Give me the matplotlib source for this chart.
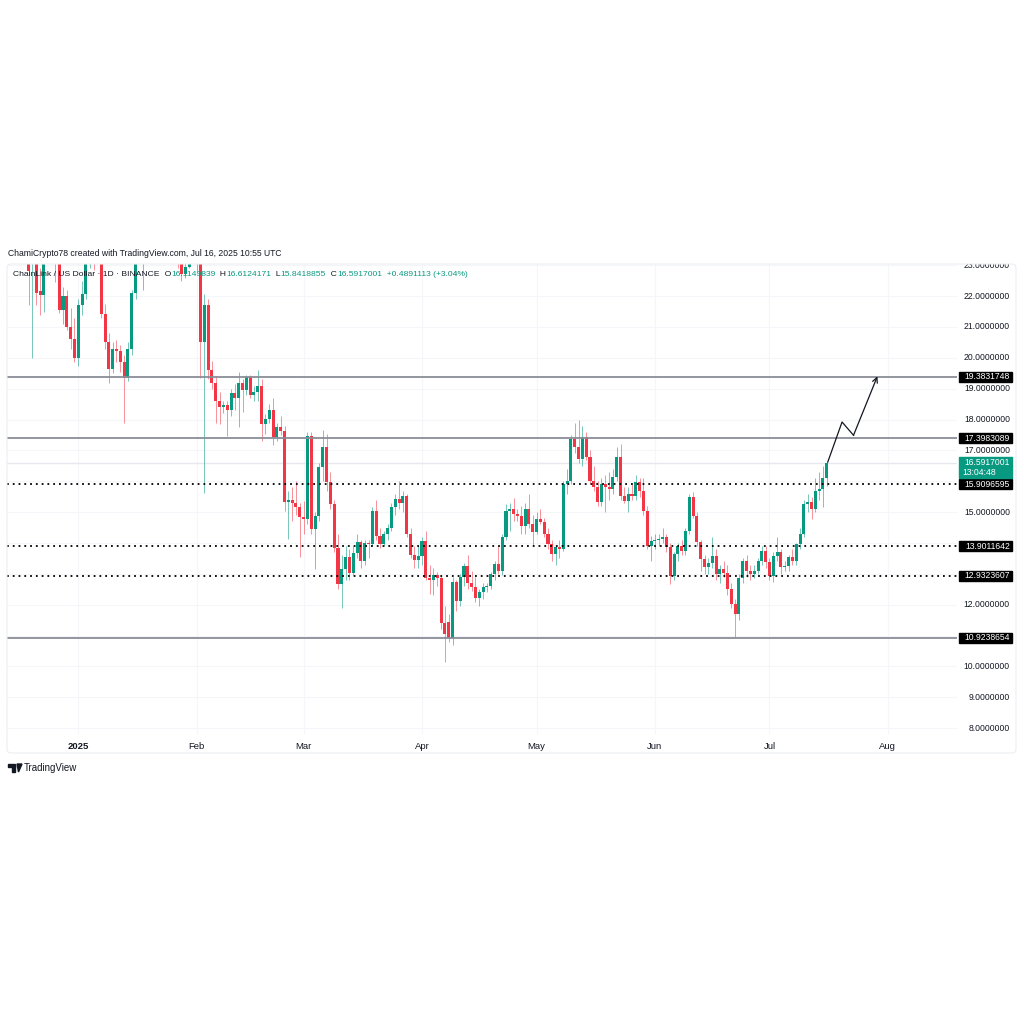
import matplotlib
matplotlib.use("Agg")
import matplotlib.pyplot as plt
import matplotlib.dates as mdates
from matplotlib import font_manager
from matplotlib.patches import Rectangle, FancyBboxPatch, Polygon
import pandas as pd

# daily LINK/USD candles, 14 Dec 2024 -> 16 Jul 2025
start_date = "2024-12-14"
opens = [
    29.2, 28.3, 28.5, 27.6, 26.8, 24.6, 23.2, 24.0, 22.15, 22.05, 23.5, 24.3, 23.9, 23.3, 21.55, 22.0, 21.0, 20.6,
    # Jan
    20.0, 21.7, 22.07, 23.4, 23.9, 23.6, 24.6, 21.42, 20.5, 19.65, 20.27, 20.22, 19.85, 19.36, 20.3, 22.1,
    24.2, 25.2, 25.4, 24.8, 24.3, 24.9, 24.4, 24.8, 24.6, 24.7, 24.4, 23.6, 22.72, 22.95, 25.0,
    # Feb
    24.6, 23.3, 20.5, 21.7, 19.6, 19.2, 18.6, 18.42, 18.48, 18.3, 18.85, 18.7, 19.2, 18.95, 19.37, 18.8,
    18.9, 19.1, 17.87, 18.02, 18.32, 17.43, 17.77, 17.64, 15.32, 15.38, 15.3, 15.15,
    # Mar
    14.83, 14.78, 17.48, 14.46, 14.88, 16.45, 17.1, 15.96, 15.26, 13.85, 12.67, 13.16, 13.53, 13.04, 13.69, 14.02,
    13.4, 14.0, 13.98, 15.05, 14.23, 13.97, 14.3, 14.5, 15.15, 15.44, 15.3, 15.53, 14.3, 13.6, 13.45,
    # Apr
    13.58, 14.07, 12.88, 12.8, 12.95, 12.88, 11.4, 11.45, 10.93, 12.72, 12.12, 12.9, 13.26, 12.7, 12.56,
    12.23, 12.4, 12.56, 12.6, 12.99, 13.32, 13.1, 14.18, 15.05, 15.1, 14.94, 14.88, 14.56, 15.1, 14.61,
    # May
    14.34, 14.77, 14.67, 14.29, 13.96, 13.64, 13.86, 13.8, 15.91, 16.02, 17.37, 17.12, 16.72, 17.43, 16.78, 16.02,
    15.8, 15.32, 15.91, 15.8, 15.75, 16.13, 16.78, 15.53, 15.37, 15.59, 15.53, 15.97, 15.7, 15.05, 13.91,
    # Jun
    14.07, 14.1, 14.13, 14.18, 13.86, 12.94, 13.64, 13.91, 13.75, 14.4, 15.48, 14.88, 14.02, 13.48, 13.21,
    13.35, 13.59, 12.99, 13.15, 13.04, 12.5, 12.02, 11.69, 12.88, 13.42, 13.1, 12.99, 13.1, 13.42, 13.75,
    # Jul
    13.37, 12.94, 13.59, 13.7, 13.21, 13.26, 13.53, 13.42, 13.96, 14.29, 15.26, 15.32, 15.1, 15.7, 15.75, 16.115,
]
highs = [
    29.8, 29.0, 29.3, 28.2, 27.1, 25.3, 24.3, 24.6, 22.9, 24.0, 24.6, 24.6, 24.1, 23.6, 22.3, 22.2, 21.6, 21.3,
    21.9, 22.5, 23.6, 24.3, 24.3, 25.0, 25.1, 21.75, 20.8, 20.5, 20.57, 20.4, 20.1, 20.5, 22.2, 24.5,
    25.5, 25.8, 26.0, 25.6, 25.2, 25.3, 25.0, 25.4, 25.0, 25.1, 24.6, 23.9, 23.2, 25.3, 25.4,
    24.8, 23.5, 22.07, 21.9, 19.9, 19.4, 18.9, 18.6, 18.6, 19.0, 19.15, 19.55, 19.3, 19.45, 19.45, 19.1,
    19.6, 19.3, 18.18, 18.5, 18.7, 17.9, 18.1, 17.8, 15.7, 15.8, 16.0, 15.3,
    15.37, 17.6, 17.6, 15.0, 16.6, 17.66, 17.54, 16.3, 15.4, 14.3, 13.6, 13.9, 13.8, 13.9, 14.3, 14.1,
    14.1, 14.1, 15.15, 15.4, 14.5, 14.4, 14.6, 15.3, 15.6, 16.02, 15.7, 15.6, 14.5, 13.9, 13.9,
    14.2, 14.4, 13.3, 13.2, 13.05, 12.95, 11.95, 11.7, 12.9, 12.8, 13.0, 13.35, 13.6, 13.1, 12.9,
    12.5, 12.7, 12.7, 13.05, 13.4, 13.9, 14.3, 15.25, 15.3, 15.45, 15.1, 15.2, 15.3, 15.6, 14.9,
    15.0, 15.1, 14.8, 14.5, 14.1, 13.95, 14.1, 16.0, 16.4, 17.5, 17.9, 17.97, 17.8, 17.6, 17.0, 16.5,
    16.0, 16.1, 16.2, 16.3, 16.4, 17.1, 17.2, 15.8, 15.8, 15.9, 16.2, 16.1, 16.1, 15.2, 14.23,
    14.3, 14.3, 14.5, 14.3, 14.0, 13.7, 14.0, 14.1, 14.5, 15.6, 15.65, 15.0, 14.1, 13.6, 13.5,
    14.18, 13.8, 13.3, 13.4, 13.3, 12.7, 12.2, 13.0, 13.5, 13.6, 13.3, 13.3, 13.5, 13.9, 13.9,
    13.5, 13.7, 14.18, 13.8, 13.4, 13.6, 13.8, 14.0, 14.5, 15.4, 15.6, 15.5, 16.1, 16.3, 16.5, 16.6124171,
]
lows = [
    27.6, 27.7, 27.0, 26.3, 24.2, 21.7, 20.0, 21.7, 21.4, 21.5, 23.3, 23.5, 22.45, 21.45, 21.1, 20.9, 20.3, 19.85,
    19.75, 21.4, 21.9, 22.9, 22.85, 23.3, 21.3, 20.3, 19.2, 19.5, 19.85, 19.53, 17.9, 19.25, 20.1, 21.9,
    23.8, 22.2, 23.5, 23.6, 23.9, 24.1, 23.5, 24.2, 24.1, 24.0, 22.9, 22.5, 22.6, 22.9, 24.0,
    22.8, 19.36, 15.63, 19.3, 19.0, 17.9, 17.86, 18.2, 17.48, 18.1, 18.3, 17.75, 18.25, 18.8, 18.7, 18.6,
    18.6, 17.32, 17.54, 17.9, 17.16, 17.3, 17.5, 15.05, 14.13, 14.7, 14.9, 13.53,
    14.29, 14.6, 14.3, 13.16, 14.7, 16.0, 15.7, 15.1, 13.7, 12.5, 11.9, 12.8, 12.8, 12.95, 13.5, 13.2,
    13.3, 13.5, 13.9, 14.1, 13.85, 13.9, 14.1, 14.4, 14.9, 15.1, 15.0, 14.2, 13.5, 13.2, 13.2,
    13.3, 12.8, 12.34, 12.3, 12.6, 11.2, 10.15, 10.8, 10.7, 11.8, 11.95, 12.6, 12.5, 12.45, 12.1,
    11.95, 12.2, 12.4, 12.5, 12.8, 13.0, 12.95, 14.1, 14.4, 14.7, 14.7, 14.3, 14.3, 14.5, 13.9,
    14.3, 14.6, 14.2, 13.8, 13.4, 13.3, 13.5, 13.75, 15.6, 15.9, 16.9, 16.6, 16.5, 16.7, 15.9, 15.7,
    15.2, 15.2, 15.0, 15.4, 15.6, 16.0, 15.4, 15.3, 15.0, 15.4, 15.4, 15.5, 14.9, 13.8, 13.42,
    13.8, 13.9, 14.0, 13.7, 12.66, 12.8, 13.4, 13.6, 13.6, 14.3, 14.8, 13.9, 13.1, 13.0, 13.0,
    13.2, 12.8, 12.7, 12.9, 12.3, 11.9, 10.95, 11.5, 12.7, 12.9, 12.8, 12.85, 13.0, 13.3, 13.2,
    12.8, 12.75, 13.4, 13.0, 13.1, 13.1, 13.3, 13.3, 13.8, 14.2, 15.0, 14.78, 15.0, 15.4, 15.16, 15.8418855,
]
closes = [
    28.3, 28.5, 27.6, 26.8, 24.6, 22.8, 24.0, 22.1, 22.05, 23.5, 24.3, 23.9, 23.3, 21.55, 22.0, 21.0, 20.6, 20.0,
    21.7, 22.07, 23.4, 23.9, 23.6, 24.6, 21.42, 20.5, 19.65, 20.27, 20.22, 19.85, 19.36, 20.3, 22.1, 24.2,
    25.2, 25.4, 24.8, 24.3, 24.9, 24.4, 24.8, 24.6, 24.7, 24.4, 23.6, 22.72, 22.95, 25.0, 24.6,
    23.3, 20.5, 21.7, 19.6, 19.2, 18.6, 18.42, 18.48, 18.3, 18.85, 18.7, 19.2, 18.95, 19.37, 18.8, 18.9,
    19.1, 17.87, 18.02, 18.32, 17.43, 17.77, 17.64, 15.32, 15.38, 15.3, 15.15, 14.83,
    14.78, 17.48, 14.46, 14.88, 16.45, 17.1, 15.96, 15.26, 13.85, 12.67, 13.16, 13.53, 13.04, 13.69, 14.02, 13.4,
    14.0, 13.98, 15.05, 14.23, 13.97, 14.3, 14.5, 15.15, 15.44, 15.3, 15.53, 14.3, 13.6, 13.45, 13.58,
    14.07, 12.88, 12.8, 12.95, 12.88, 11.4, 11.05, 10.93, 12.72, 12.12, 12.9, 13.26, 12.7, 12.56, 12.23,
    12.4, 12.56, 12.6, 12.99, 13.32, 13.1, 14.18, 15.05, 15.1, 14.94, 14.88, 14.56, 15.1, 14.61, 14.34,
    14.77, 14.67, 14.29, 13.96, 13.64, 13.86, 13.8, 15.91, 16.02, 17.37, 17.12, 16.72, 17.43, 16.78, 16.02, 15.8,
    15.32, 15.91, 15.8, 15.75, 16.13, 16.78, 15.53, 15.37, 15.59, 15.53, 15.97, 15.7, 15.05, 13.91, 14.07,
    14.1, 14.13, 14.18, 13.86, 12.94, 13.64, 13.91, 13.75, 14.4, 15.48, 14.88, 14.02, 13.48, 13.21, 13.35,
    13.59, 12.99, 13.15, 13.04, 12.5, 12.02, 11.69, 12.88, 13.42, 13.1, 12.99, 13.1, 13.42, 13.75, 13.37,
    12.94, 13.59, 13.7, 13.21, 13.26, 13.53, 13.42, 13.96, 14.29, 15.26, 15.32, 15.1, 15.7, 15.75, 16.1026, 16.5917001,
]

# horizontal levels drawn on the chart
solid_levels = [19.3831748, 17.3983089, 10.9238654]
dotted_levels = [15.9096595, 13.9011642, 12.9323607]
last_price = 16.5917001
countdown = "13:04:48"

# price scale labels that are shown
price_ticks = [8, 9, 10, 12, 15, 17, 18, 19, 20, 21, 22, 23]
grid_prices = list(range(8, 24))

month_dates = ["2025-01-01", "2025-02-01", "2025-03-01", "2025-04-01",
               "2025-05-01", "2025-06-01", "2025-07-01", "2025-08-01"]
month_labels = ["2025", "Feb", "Mar", "Apr", "May", "Jun", "Jul", "Aug"]

# hand-drawn projection path
path_dates = ["2025-07-16 06:00", "2025-07-20 00:00", "2025-07-23 00:00", "2025-07-29 06:00"]
path_prices = [16.62, 17.92, 17.49, 19.40]

UP = "#089981"
DOWN = "#f23645"
TXT = "#131722"

# a narrow face is closer to the screenshot's font, if it is there
installed = {f.name for f in font_manager.fontManager.ttflist}
if "Liberation Sans Narrow" in installed:
    plt.rcParams["font.family"] = ["Liberation Sans Narrow", "DejaVu Sans"]
    k = 1.0 / 0.82
else:
    plt.rcParams["font.family"] = ["Liberation Sans", "DejaVu Sans"]
    k = 1.0

W = H = 1024
fig = plt.figure(figsize=(10.24, 10.24), dpi=100)
fig.patch.set_facecolor("white")


def px_rect(x0, y0, x1, y1):
    return [x0 / W, 1 - y1 / H, (x1 - x0) / W, (y1 - y0) / H]


dates = pd.date_range(start_date, periods=len(closes), freq="D")
xd = mdates.date2num(dates)
jan1 = mdates.date2num(pd.Timestamp("2025-01-01"))

ax = fig.add_axes(px_rect(7, 264, 957, 734))
ax.set_xlim(jan1 - 18.67, jan1 + 230.1)
ax.set_ylim(7.81, 23.04)
for s in ax.spines.values():
    s.set_visible(False)
ax.set_yticks([])

# very faint grid
for g in grid_prices:
    ax.axhline(g, color="#f5f6f9", lw=0.8, zorder=0)
month_x = mdates.date2num(pd.to_datetime(month_dates))
for mx in month_x:
    ax.axvline(mx, color="#f5f6f9", lw=0.8, zorder=0)

# candles
for x, o, h, l, c in zip(xd, opens, highs, lows, closes):
    col = UP if c >= o else DOWN
    ax.vlines(x, l, h, color=col, lw=0.7, alpha=0.55, zorder=2)
    ax.bar(x, max(abs(c - o), 0.03), bottom=min(o, c), width=0.8,
           color=col, linewidth=0, zorder=3)

# levels
for lv in solid_levels:
    ax.axhline(lv, color="#8a8d96", lw=1.3, zorder=4)
for lv in dotted_levels:
    ax.axhline(lv, color="#000000", lw=1.3, ls=(0, (1, 2.2)), zorder=4)
ax.axhline(last_price, color="#e6e8ed", lw=1, zorder=1)

# projection path with arrow head
px = mdates.date2num(pd.to_datetime(path_dates))
ax.plot(px[:-1], path_prices[:-1], color=TXT, lw=0.9, zorder=5)
ax.annotate("", xy=(px[-1], path_prices[-1]), xytext=(px[-2], path_prices[-2]),
            arrowprops=dict(arrowstyle="->", color=TXT, lw=0.9,
                            shrinkA=0, shrinkB=0, mutation_scale=9), zorder=5)

# time axis
ax.set_xticks(month_x)
ax.set_xticklabels(month_labels, fontsize=6.8 * k, color=TXT)
ax.get_xticklabels()[0].set_fontweight("bold")
ax.tick_params(axis="x", length=0, pad=6)

# price scale
axr = fig.add_axes(px_rect(957, 264, 1016, 734), sharey=ax)
axr.set_xlim(957, 1016)
axr.axis("off")
for t in price_ticks:
    axr.text(1010, t, f"{t:.7f}", fontsize=6.2 * k, color=TXT, va="center", ha="right", clip_on=True)
bh = 10 / 30.79
for lv in solid_levels + dotted_levels:
    axr.add_patch(Rectangle((959, lv - bh / 2), 53, bh, color="#000000", zorder=5))
    axr.text(1010, lv, f"{lv:.7f}", fontsize=6.2 * k, color="white",
             va="center", ha="right", zorder=6)
axr.add_patch(Rectangle((959, last_price - 15 / 30.79), 53, 21 / 30.79, color=UP, zorder=5))
axr.text(1010, last_price, f"{last_price:.7f}", fontsize=6.2 * k, color="white",
         va="center", ha="right", zorder=6)
axr.text(962, last_price - 9.4 / 30.79, countdown, fontsize=6.2 * k, color="white",
         va="center", ha="left", zorder=6)

# chart frame
fig.patches.append(FancyBboxPatch((7 / W, 1 - 753 / H), 1009 / W, 489 / H,
                                  boxstyle="round,pad=0,rounding_size=0.004",
                                  transform=fig.transFigure, fill=False,
                                  ec="#eceef2", lw=0.8))

# header texts
fig.text(8 / W, 1 - 254 / H, "ChamiCrypto78 created with TradingView.com, Jul 16, 2025 10:55 UTC",
         fontsize=6.26 * k, color=TXT, va="center", ha="left")

pieces = [("ChainLink / US Dollar · 1D · BINANCE", TXT), ("  O", TXT), ("16.1149839", UP),
          ("  H", TXT), ("16.6124171", UP), ("  L", TXT), ("15.8418855", UP),
          ("  C", TXT), ("16.5917001", UP), ("  +0.4891113 (+3.04%)", UP)]
renderer = fig.canvas.get_renderer()
x_cursor = 13
for txt, col in pieces:
    t = fig.text(x_cursor / W, 1 - 275 / H, txt, fontsize=6.1 * k, color=col,
                 va="center", ha="left", zorder=10)
    x_cursor = t.get_window_extent(renderer).x1

# TradingView logo
logo_col = TXT
fig.patches.append(Rectangle((8 / W, 1 - 767 / H), 7 / W, 3 / H, transform=fig.transFigure, color=logo_col))
fig.patches.append(Rectangle((12 / W, 1 - 772 / H), 3 / W, 6 / H, transform=fig.transFigure, color=logo_col))
fig.patches.append(Polygon([(17 / W, 1 - 764 / H), (22 / W, 1 - 764 / H), (18.5 / W, 1 - 772 / H)],
                           closed=True, transform=fig.transFigure, color=logo_col))
fig.text(24 / W, 1 - 768 / H, "TradingView", fontsize=7 * k, color=TXT, va="center", ha="left")

fig.savefig("out.png", dpi=100, facecolor="white")
